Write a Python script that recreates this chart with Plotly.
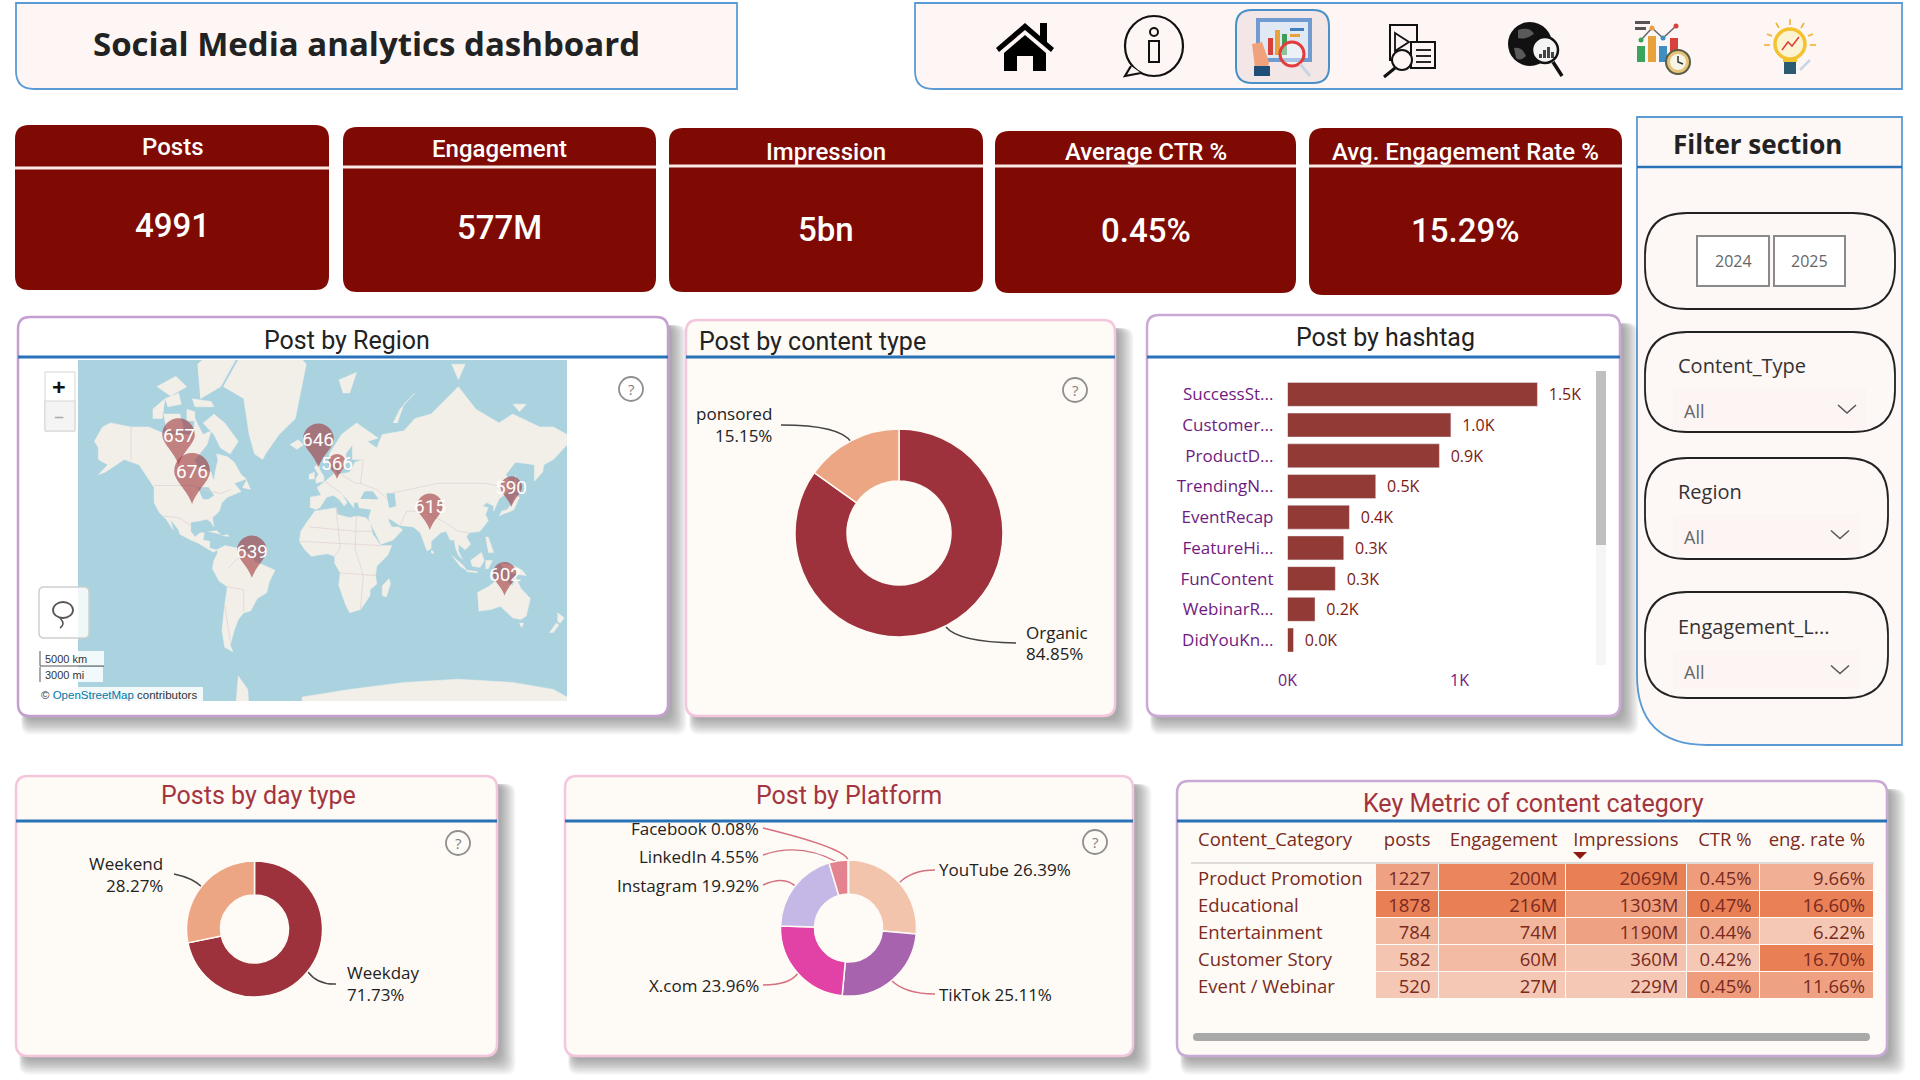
import numpy as np
import plotly.graph_objects as go

W, H = 1920, 1080

# ---- data
kpi_titles = ["Posts", "Engagement", "Impression", "Average CTR %", "Avg. Engagement Rate %"]
kpi_values = ["4991", "577M", "5bn", "0.45%", "15.29%"]

region_names = ["USA", "Canada", "UK", "Germany", "Japan", "India", "Brazil", "Australia"]
region_posts = [676, 657, 646, 566, 590, 615, 639, 602]
region_lon = [-96, -106, -3, 10.7, 139, 79, -52, 134]
region_lat = [39.2, 58, 57, 52, 37.5, 22.9, -11.6, -24]

content_type_labels = ["Organic", "Sponsored"]
content_type_share = [84.85, 15.15]

hashtags = ["SuccessSt...", "Customer...", "ProductD...", "TrendingN...", "EventRecap",
            "FeatureHi...", "FunContent", "WebinarR...", "DidYouKn..."]
hashtag_posts = [1.453, 0.95, 0.883, 0.513, 0.36, 0.327, 0.278, 0.16, 0.035]
hashtag_text = ["1.5K", "1.0K", "0.9K", "0.5K", "0.4K", "0.3K", "0.3K", "0.2K", "0.0K"]

day_labels = ["Weekday", "Weekend"]
day_share = [71.73, 28.27]

platform_labels = ["YouTube", "TikTok", "X.com", "Instagram", "LinkedIn", "Facebook"]
platform_share = [26.39, 25.11, 23.96, 19.92, 4.55, 0.08]

categories = ["Product Promotion", "Educational", "Entertainment", "Customer Story", "Event / Webinar"]
cat_posts = [1227, 1878, 784, 582, 520]
cat_engagement = [200, 216, 74, 60, 27]
cat_impressions = [2069, 1303, 1190, 360, 229]
cat_ctr = [0.45, 0.47, 0.44, 0.42, 0.45]
cat_eng_rate = [9.66, 16.60, 6.22, 16.70, 11.66]

# coarse coastlines for the base map (lon, lat)
land = [
    [(-168,66),(-162,70),(-156,71),(-141,70),(-128,70),(-115,68),(-108,68),(-95,68),(-94,72),(-88,68),(-82,69),(-85,65),(-94,60),(-92,57),(-82,55),(-80,51),(-79,55),(-77,60),(-78,62),(-70,61),(-65,59),(-60,54),(-56,52),(-65,50),(-60,46),(-66,44),(-70,43),(-74,40),(-76,35),(-81,31),(-80,25),(-82,28),(-85,30),(-90,29),(-97,28),(-97,22),(-94,18),(-90,21),(-87,21),(-88,16),(-83,15),(-83,10),(-78,9),(-80,7),(-85,10),(-92,14),(-97,16),(-105,20),(-106,23),(-112,30),(-110,23),(-115,30),(-120,34),(-124,40),(-124,48),(-130,54),(-135,58),(-146,60),(-152,58),(-160,55),(-165,54),(-158,58),(-165,60),(-165,64)],
    [(-80,73),(-72,71),(-62,66),(-68,62),(-75,64),(-80,68),(-88,71)],
    [(-117,73),(-105,73),(-102,69),(-115,69)],
    [(-90,76),(-75,78),(-62,82),(-75,83),(-92,81)],
    [(-125,74),(-116,76),(-118,72),(-125,72)],
    [(-116,76),(-106,77),(-104,75),(-114,74.5)],
    [(-96,76),(-82,75.5),(-80,74.5),(-94,74.5)],
    [(-122,78),(-108,79.5),(-100,78),(-112,76.5)],
    [(-100,74),(-94,73.5),(-94,71.5),(-100,71.5)],
    [(-73,78),(-60,82),(-32,84),(-12,81),(-20,72),(-32,68),(-42,62),(-44,60),(-50,62),(-54,68),(-58,76)],
    [(-24,65),(-18,66.5),(-14,65),(-19,63.5)],
    [(-5,50),(1,51),(1,53),(-2,56),(-3,58.5),(-6,57),(-3,54),(-5,52)],
    [(-10,52),(-6,52),(-6,55),(-10,54)],
    [(-59,48),(-53,47),(-56,51.5)],
    [(-84,22),(-75,20),(-78,22.5)],
    [(-74,19),(-69,18.5),(-70,20)],
    [(-72,12),(-62,10),(-52,5),(-50,0),(-44,-2),(-35,-6),(-39,-14),(-41,-22),(-48,-26),(-53,-34),(-58,-35),(-62,-39),(-65,-45),(-68,-52),(-66,-55),(-72,-53),(-74,-45),(-72,-30),(-70,-18),(-76,-14),(-81,-5),(-80,1),(-77,7),(-78,9)],
    [(-6,35),(10,37),(11,33),(20,31),(25,32),(32,31),(35,28),(37,20),(43,12),(51,12),(48,5),(40,-3),(39,-10),(40,-16),(35,-20),(35,-24),(28,-33),(20,-35),(17,-30),(12,-17),(13,-8),(9,-1),(9,4),(4,6),(-4,5),(-8,4),(-13,9),(-17,15),(-16,22),(-10,30)],
    [(49,-12),(50,-16),(47,-25),(44,-24),(44,-17)],
    [(-9,37),(-9,43),(-1,44),(-4,48),(2,51),(8,54),(8,57),(11,54),(20,55),(24,59),(30,60),(22,60),(22,65),(17,62),(18,59),(13,55),(11,59),(5,59),(5,62),(14,68),(25,71),(41,67),(33,66),(40,64),(44,68),(60,69),(68,72),(80,73),(100,78),(113,74),(130,71),(140,73),(160,70),(170,70),(180,68),(180,65),(170,60),(163,58),(162,55),(156,51),(156,58),(142,59),(135,54),(140,48),(130,42),(128,38),(126,35),(126,38),(121,40),(118,38),(122,37),(120,33),(122,29),(116,22),(108,21),(106,18),(109,13),(105,9),(100,13),(100,8),(103,2),(100,5),(98,10),(97,16),(94,16),(91,22),(87,21),(80,15),(80,10),(77,8),(73,18),(72,21),(67,25),(57,26),(50,30),(48,30),(51,25),(56,25),(59,23),(52,16),(43,13),(39,21),(35,28),(34,31),(36,36),(27,37),(26,40),(23,40),(23,37),(19,41),(14,45),(18,40),(16,38),(12,42),(8,44),(3,43),(0,39),(-2,37),(-5,36)],
    [(130,32),(132,35),(136,36),(140,40),(142,44),(145,43),(141,36),(136,34)],
    [(142,54),(143,49),(142,46),(141.5,50)],
    [(120,18),(122,18),(126,7),(122,7)],
    [(109,1),(117,7),(119,1),(116,-4),(110,-3)],
    [(95,5),(104,-3),(106,-6),(101,-3)],
    [(106,-6),(114,-7),(114,-8),(106,-7)],
    [(120,1),(125,1),(122,-5),(120,-5)],
    [(131,-1),(141,-3),(147,-6),(150,-10),(143,-9),(138,-8),(133,-4)],
    [(80,9),(82,7),(81,6),(80,7)],
    [(114,-22),(122,-18),(130,-12),(136,-12),(136,-15),(140,-17),(142,-11),(146,-19),(153,-26),(150,-37),(146,-39),(140,-38),(136,-35),(131,-31),(124,-33),(115,-34)],
    [(145,-41),(148,-41),(147,-43),(146,-43)],
    [(173,-35),(178,-38),(175,-41),(173,-40)],
    [(172,-41),(174,-42),(170,-46),(167,-46)],
    [(12,79),(25,80),(20,77),(15,77)],
    [(52,71),(57,74),(68,77),(60,75),(55,71)],
    [(100,79),(105,81),(95,81)],
    [(140,75),(150,75),(145,73.5)],
    [(-15,-85),(-15,-70),(20,-68),(60,-66),(100,-65),(140,-66),(170,-68),(180,-70),(180,-85)],
    [(-70,-85),(-62,-64),(-55,-68),(-50,-85)],
]
inland_water = [
    [(28,42),(31,46),(37,46),(41,42),(35,42)],
    [(47,45),(53,45),(54,38),(49,37)],
    [(-92,48),(-84,48),(-80,44),(-84,42),(-88,42)],
]
borders = [
    [(-124,49),(-95,49),(-83,46),(-75,45),(-67,47)],
    [(-141,70),(-141,60)],
    [(-117,32),(-106,31),(-97,26)],
    [(-70,-18),(-58,-20),(-58,-34)],
    [(-70,-5),(-60,5),(-52,3)],
    [(-72,-30),(-68,-50)],
    [(-10,25),(25,22),(37,22)],
    [(10,37),(13,10),(9,4)],
    [(25,32),(24,10),(30,-10),(28,-33)],
    [(13,-8),(40,-10)],
    [(-17,15),(43,12)],
    [(30,60),(28,50),(40,47),(48,42)],
    [(50,45),(85,50),(120,50),(135,48)],
    [(75,35),(90,28),(100,22),(108,21)],
    [(57,26),(62,35),(75,35)],
    [(2,51),(8,48),(14,45)],
    [(14,54),(24,50),(28,50)],
]


def merc(lat):
    return np.log(np.tan(np.pi / 4 + np.radians(np.array(lat, dtype=float)) / 2))


def rounded(x0, y0, x1, y1, r):
    # r is one radius or (top-left, top-right, bottom-right, bottom-left)
    tl, tr, br, bl = (r, r, r, r) if np.isscalar(r) else r
    return (f"M{x0+tl},{y0} L{x1-tr},{y0} Q{x1},{y0} {x1},{y0+tr} L{x1},{y1-br} Q{x1},{y1} {x1-br},{y1} "
            f"L{x0+bl},{y1} Q{x0},{y1} {x0},{y1-bl} L{x0},{y0+tl} Q{x0},{y0} {x0+tl},{y0} Z")


shapes = []
annotations = []


def path(d, fill=None, line=None, width=1, layer="below"):
    shapes.append(dict(type="path", xref="x", yref="y", path=d, layer=layer,
                       fillcolor=fill or "rgba(0,0,0,0)",
                       line=dict(color=line or "rgba(0,0,0,0)", width=width if line else 0)))


def rect(x0, y0, x1, y1, fill=None, line=None, width=1, layer="below"):
    path(f"M{x0},{y0} L{x1},{y0} L{x1},{y1} L{x0},{y1} Z", fill, line, width, layer)


def seg(x0, y0, x1, y1, color, width=1, layer="below"):
    path(f"M{x0},{y0} L{x1},{y1}", None, color, width, layer)


def circle(cx, cy, r, fill=None, line=None, width=1, layer="below", ry=None):
    ry = ry or r
    shapes.append(dict(type="circle", xref="x", yref="y", x0=cx - r, x1=cx + r, y0=cy - ry, y1=cy + ry, layer=layer,
                       fillcolor=fill or "rgba(0,0,0,0)",
                       line=dict(color=line or "rgba(0,0,0,0)", width=width if line else 0)))


def label(x, y, text, size=16, color="#333333", family="Open Sans", anchor="center", weight=None):
    font = dict(size=size, color=color, family=family)
    if weight:
        font["weight"] = weight
    annotations.append(dict(xref="x", yref="y", x=x, y=y, text=text, showarrow=False, xanchor=anchor,
                            yanchor="middle", font=font, borderpad=0))


def panel(x0, y0, x1, y1, fill, border, line_y, title, tx, ty, tcolor="#222222", anchor="center", shadow=True):
    if shadow:
        for k in range(10):
            grow = k * 1.6
            path(rounded(x0 + 8 - grow / 3, y0 + 8, x1 + 4 + grow, y1 + 4 + grow, 10), "rgba(60,60,60,0.05)")
    path(rounded(x0, y0, x1, y1, 12), fill, border, 2.5)
    seg(x0, line_y, x1, line_y, "#2a72b8", 3)
    label(tx, ty, title, 25, tcolor, "Roboto", anchor)


def help_icon(cx, cy):
    circle(cx, cy, 12, "rgba(0,0,0,0)", "#8f8f8f", 1.8)
    label(cx, cy, "?", 15, "#7f7f7f", "Open Sans")


def leader(x0, y0, cx, cy, x1, y1, color):
    path(f"M{x0},{y0} Q{cx},{cy} {x1},{y1}", None, color, 1.4)


def pie_domain(cx, cy, r):
    return dict(x=[(cx - r) / W, (cx + r) / W], y=[1 - (cy + r) / H, 1 - (cy - r) / H])


def cell_colors(values):
    # per-column tint, light salmon to orange as in the conditional formatting
    low, high = np.array([245, 200, 181]), np.array([233, 127, 85])
    span = max(values) - min(values)
    out = []
    for v in values:
        c = low + (high - low) * (v - min(values)) / span
        out.append(f"rgb({c[0]:.0f},{c[1]:.0f},{c[2]:.0f})")
    return out


def draw_nav_icons():
    # home
    path("M996,48 L1025,23 L1040,36 L1040,23 L1047,23 L1047,42 L1054,48 L1051,52 L1025,30 L999,52 Z", "#000000")
    path("M1004,71 L1004,53 L1025,35 L1046,53 L1046,71 L1033,71 L1033,56 L1017,56 L1017,71 Z", "#000000")
    # info bubble
    circle(1154, 46, 29, None, "#111111", 2.2, ry=30)
    path("M1131,66 L1125,76 L1141,73", "#fdf6f5", "#111111", 2.2)
    circle(1154, 32, 4, None, "#111111", 2)
    rect(1149, 41, 1159, 62, None, "#111111", 2)
    # selected report button
    path(rounded(1236, 10, 1329, 83, 16), "#f3e6e6", "#4a90c8", 2)
    rect(1256, 18, 1312, 62, "#6f9bd0")
    rect(1260, 22, 1308, 58, "#dfe8f3")
    rect(1268, 38, 1273, 55, "#d8403a")
    rect(1275, 30, 1280, 55, "#e9a23b")
    rect(1282, 34, 1287, 55, "#3f9d58")
    rect(1290, 28, 1304, 31, "#3f7fc0")
    rect(1290, 34, 1300, 37, "#e9a23b")
    path("M1252,44 L1262,42 L1269,62 L1268,68 L1255,68 Z", "#f0a27c")
    rect(1254, 66, 1270, 76, "#1f4e79")
    circle(1292, 54, 12, "rgba(255,255,255,0.4)", "#e23c3c", 3)
    seg(1300, 64, 1310, 76, "#c9d5e3", 3)
    # video / document search
    rect(1390, 25, 1417, 60, "#fdf6f5", "#111111", 2)
    path("M1395,33 L1409,42 L1395,51 Z", "#fdf6f5", "#111111", 1.8)
    rect(1411, 42, 1435, 68, "#fdf6f5", "#111111", 2)
    for y in (50, 56, 62):
        seg(1416, y, 1431, y, "#111111", 1.8)
    circle(1402, 60, 10, "#fdf6f5", "#111111", 2)
    seg(1395, 68, 1384, 77, "#111111", 3)
    # globe search
    circle(1530, 44, 22, "#111111")
    path("M1518,30 Q1530,26 1534,34 Q1526,40 1518,38 Z", "#5a5a5a")
    path("M1514,48 Q1522,46 1526,56 Q1520,62 1516,58 Z", "#5a5a5a")
    circle(1545, 50, 13, "#f4f4f4", "#111111", 2.5)
    for x, y in ((1539, 54), (1543, 50), (1547, 47), (1551, 52)):
        rect(x, y, x + 3, 58, "#444444")
    seg(1553, 62, 1562, 76, "#111111", 3.5)
    # chart with clock
    rect(1635, 21, 1650, 24, "#555555")
    rect(1635, 27, 1646, 30, "#555555")
    rect(1637, 46, 1645, 62, "#3aa35c")
    rect(1648, 36, 1656, 62, "#e9a23b")
    rect(1659, 46, 1667, 62, "#3f8fc0")
    rect(1670, 38, 1678, 58, "#d8403a")
    path("M1641,40 L1652,28 L1663,38 L1676,26", None, "#666666", 1.5)
    for x, y, c in ((1641, 40, "#3aa35c"), (1652, 28, "#e9a23b"), (1663, 38, "#3f8fc0"), (1676, 26, "#d8403a")):
        circle(x, y, 2.5, c)
    circle(1678, 62, 12, "#e5c47a", "#5b5b45", 2)
    circle(1678, 62, 8, "#f7f4e8")
    path("M1678,56 L1678,62 L1683,64", None, "#333333", 1.5)
    # light bulb
    for x0, y0, x1, y1 in ((1790, 19, 1790, 25), (1776, 23, 1779, 28), (1804, 23, 1801, 28),
                           (1767, 34, 1772, 36), (1813, 34, 1808, 36), (1764, 45, 1770, 45), (1816, 45, 1810, 45)):
        seg(x0, y0, x1, y1, "#f2b134", 1.6)
    circle(1790, 44, 15, "#fbf3d2", "#f3c22f", 3.5)
    path("M1782,50 L1788,42 L1792,46 L1799,37", None, "#d8403a", 1.5)
    rect(1783, 59, 1797, 62, "#f3c22f")
    rect(1784, 62, 1796, 74, "#2c5a70")
    seg(1800, 70, 1810, 60, "#c9d5e3", 2.5)


# ---- top row
path(rounded(16, 3, 737, 89, (0, 0, 0, 18)), "#fdf6f5", "#5b9bd5", 1.8)
label(92, 43, "Social Media analytics dashboard", 33, "#222222", "Open Sans", "left", 700)
path(rounded(915, 3, 1902, 89, (0, 0, 0, 18)), "#fdf6f5", "#5b9bd5", 1.8)
draw_nav_icons()

card_x = [(15, 329), (343, 656), (669, 983), (995, 1296), (1309, 1622)]
card_y = [(125, 290), (127, 292), (128, 292), (131, 293), (128, 295)]
card_line = [168, 167, 166, 166, 166]
card_title_y = [147, 149, 152, 152, 152]
card_value_y = [225, 227, 229, 230, 230]
for i in range(5):
    path(rounded(card_x[i][0], card_y[i][0], card_x[i][1], card_y[i][1], 14), "#7f0a03")
    seg(card_x[i][0], card_line[i], card_x[i][1], card_line[i], "#fbe9e6", 3)
    mid = sum(card_x[i]) / 2
    label(mid, card_title_y[i], kpi_titles[i], 24, "#ffffff", "Roboto", weight=500)
    label(mid, card_value_y[i], kpi_values[i], 33, "#ffffff", "Roboto", weight=500)

# ---- filter panel
path(rounded(1637, 117, 1902, 745, (0, 0, 0, 70)), "#fdf7f6", "#5b9bd5", 1.8)
seg(1637, 167, 1902, 167, "#2a72b8", 2.5)
label(1757, 144, "Filter section", 26, "#222222", "Open Sans", weight=700)
path(rounded(1645, 213, 1895, 309, 42), None, "#222222", 1.8)
rect(1697, 236, 1769, 286, "#ffffff", "#8a8a8a", 2)
rect(1774, 236, 1845, 286, "#ffffff", "#8a8a8a", 2)
label(1733, 261, "2024", 16, "#666666")
label(1809, 261, "2025", 16, "#666666")
slicers = [("Content_Type", 332, 432, 1895, 365, 388, 430, 411),
           ("Region", 458, 559, 1888, 491, 514, 555, 537),
           ("Engagement_L...", 592, 698, 1888, 626, 650, 689, 672)]
for name, y0, y1, x1, ly, dy0, dy1, ay in slicers:
    path(rounded(1645, y0, x1, y1, 42), None, "#222222", 1.8)
    rect(1673, dy0, x1 - 28, dy1, "#fcf5f4")
    label(1677, ly, name, 20, "#333333", anchor="left")
    label(1683, ay, "All", 18, "#666666", anchor="left")
    cx, cy = x1 - 48, (dy0 + dy1) / 2
    path(f"M{cx-9},{cy-4} L{cx},{cy+4} L{cx+9},{cy-4}", None, "#555555", 1.5)

# ---- panels
panel(18, 317, 668, 716, "#ffffff", "#c49fd0", 357, "Post by Region", 347, 340)
panel(686, 320, 1115, 716, "#fefaf5", "#f3c6dd", 357, "Post by content type", 698, 341, anchor="left")
panel(1147, 315, 1620, 716, "#ffffff", "#c9a9d6", 357, "Post by hashtag", 1385, 337)
panel(16, 776, 497, 1056, "#fefaf5", "#f3c6dd", 821, "Posts by day type", 258, 795, "#a3353f")
panel(565, 776, 1133, 1056, "#fefaf5", "#f3c6dd", 821, "Post by Platform", 849, 795, "#a3353f")
panel(1177, 781, 1887, 1056, "#fefaf5", "#c9a9d6", 821, "Key Metric of content category", 1533, 803, "#a3353f")
help_icon(631, 389)
help_icon(1075, 390)
help_icon(458, 843)
help_icon(1095, 842)

# map chrome
rect(45, 372, 75, 431, "#ffffff", "#d5d5d5", 1, "above")
rect(45, 401, 75, 431, "#f4f4f4", "#d5d5d5", 1, "above")
label(59, 386, "+", 24, "#111111", "Open Sans", weight=700)
label(59, 415, "–", 20, "#aaaaaa")
path(rounded(39, 587, 89, 638, 5), "rgba(255,255,255,0.82)", "#cfcfcf", 1.5, "above")
circle(63, 610, 10, None, "#555555", 1.8, "above", ry=8)
path("M60,618 Q66,624 60,628", None, "#555555", 1.6, "above")
rect(40, 651, 104, 666, "rgba(255,255,255,0.85)", None, 1, "above")
rect(40, 667, 103, 682, "rgba(255,255,255,0.85)", None, 1, "above")
seg(40, 651, 40, 666, "#555555", 1, "above")
seg(40, 666, 104, 666, "#555555", 1, "above")
seg(40, 667, 40, 682, "#555555", 1, "above")
label(44, 659, "5000 km", 11, "#333333", "Liberation Sans", "left")
label(44, 675, "3000 mi", 11, "#333333", "Liberation Sans", "left")
rect(38, 687, 203, 702, "rgba(255,255,255,0.85)", None, 1, "above")
label(40, 695, "© <span style='color:#0078a8'>OpenStreetMap</span> contributors", 11.5, "#333333", "Liberation Sans", "left")

# donut leaders and labels
leader(781, 425, 840, 425, 851, 442, "#444444")
label(773, 413, "ponsored", 17, "#222222", anchor="right")
label(773, 435, "15.15%", 17, "#222222", anchor="right")
leader(946, 627, 958, 642, 1016, 643, "#444444")
label(1025, 632, "Organic", 17, "#222222", anchor="left")
label(1025, 653, "84.85%", 17, "#222222", anchor="left")

leader(174, 874, 193, 878, 202, 887, "#444444")
label(164, 863, "Weekend", 17, "#222222", anchor="right")
label(164, 885, "28.27%", 17, "#222222", anchor="right")
leader(308, 972, 318, 985, 336, 984, "#444444")
label(346, 972, "Weekday", 17, "#222222", anchor="left")
label(346, 994, "71.73%", 17, "#222222", anchor="left")

plat_pink = "#d4707f"
leader(763, 828, 845, 848, 848, 860, plat_pink)
leader(763, 855, 800, 842, 837, 862, plat_pink)
leader(763, 885, 785, 875, 796, 887, plat_pink)
leader(763, 985, 790, 985, 798, 973, plat_pink)
leader(935, 870, 912, 870, 899, 883, plat_pink)
leader(935, 994, 905, 994, 891, 980, plat_pink)
plat_left = [("Facebook 0.08%", 828), ("LinkedIn 4.55%", 856), ("Instagram 19.92%", 885), ("X.com 23.96%", 985)]
for text, y in plat_left:
    label(760, y, text, 17, "#222222", anchor="right")
label(938, 869, "YouTube 26.39%", 17, "#222222", anchor="left")
label(938, 994, "TikTok 25.11%", 17, "#222222", anchor="left")

# hashtag scrollbar
rect(1596, 371, 1606, 665, "#f5f5f5")
rect(1596, 371, 1606, 545, "#bfbfbf")

# table furniture
table_ink = "#7a2a20"
path("M1573,852 L1587,852 L1580,859 Z", "#8f1a12", None, 1, "above")
seg(1191, 863, 1874, 863, "#bdbdbd", 1.2, "above")
path(rounded(1193, 1033, 1870, 1041, 4), "#a9a9a9")

fig = go.Figure()

# full-page axes in pixels carry the panels and text
fig.add_trace(go.Scatter(x=[None], y=[None], xaxis="x", yaxis="y", showlegend=False, hoverinfo="skip"))


def lines_to_xy(polys):
    xs, ys = [], []
    for poly in polys:
        lon, lat = zip(*poly)
        xs += list(lon) + [None]
        ys += list(merc(lat)) + [None]
    return xs, ys


land_x, land_y = lines_to_xy(land)
fig.add_trace(go.Scatter(x=land_x, y=land_y, xaxis="x2", yaxis="y2", mode="lines", fill="toself",
                         fillcolor="#f2efe9", line=dict(color="#f2efe9", width=0.5), hoverinfo="skip", showlegend=False))
water_x, water_y = lines_to_xy(inland_water)
fig.add_trace(go.Scatter(x=water_x, y=water_y, xaxis="x2", yaxis="y2", mode="lines", fill="toself",
                         fillcolor="#aad3df", line=dict(color="#aad3df", width=0.5), hoverinfo="skip", showlegend=False))
border_x, border_y = lines_to_xy(borders)
fig.add_trace(go.Scatter(x=border_x, y=border_y, xaxis="x2", yaxis="y2", mode="lines",
                         line=dict(color="#e0cfd2", width=0.7), hoverinfo="skip", showlegend=False))

# pins: height grows with the post count, tip sits on the region
for name, posts, lon, lat in zip(region_names, region_posts, region_lon, region_lat):
    h = 25 + (posts - 566) / (676 - 566) * 26
    r = 0.35 * h
    d = (f"M0,0 C{-0.3*r},{0.3*h} {-r},{0.45*h} {-r},{h-r} C{-r},{h-0.45*r} {-0.55*r},{h} 0,{h} "
         f"C{0.55*r},{h} {r},{h-0.45*r} {r},{h-r} C{r},{0.45*h} {0.3*r},{0.3*h} 0,0 Z")
    shapes.append(dict(type="path", xref="x2", yref="y2", xsizemode="pixel", ysizemode="pixel",
                       xanchor=lon, yanchor=float(merc(lat)), path=d, layer="above",
                       fillcolor="rgba(160,55,60,0.6)", line=dict(width=0)))
    annotations.append(dict(xref="x2", yref="y2", x=lon, y=float(merc(lat)), yshift=0.63 * h, text=str(posts),
                            showarrow=False, font=dict(size=19, color="#ffffff", family="Roboto"), yanchor="middle"))

fig.add_trace(go.Pie(labels=content_type_labels, values=content_type_share, hole=0.5, sort=False, direction="clockwise",
                     domain=pie_domain(899, 533, 104), textinfo="none", showlegend=False, automargin=False,
                     marker=dict(colors=["#9e323c", "#eca684"], line=dict(color="#fefaf5", width=1.5))))
fig.add_trace(go.Pie(labels=day_labels, values=day_share, hole=0.5, sort=False, direction="clockwise",
                     domain=pie_domain(254.5, 929, 68), textinfo="none", showlegend=False, automargin=False,
                     marker=dict(colors=["#9e323c", "#eca684"], line=dict(color="#fefaf5", width=1.5))))
fig.add_trace(go.Pie(labels=platform_labels, values=platform_share, hole=0.5, sort=False, direction="clockwise",
                     domain=pie_domain(848.5, 928, 68), textinfo="none", showlegend=False, automargin=False,
                     marker=dict(colors=["#f3c4ac", "#a763ad", "#e242a5", "#c5b7e6", "#e5828f", "#e5828f"],
                                 line=dict(color="#fefaf5", width=1.5))))

fig.add_trace(go.Bar(x=hashtag_posts, y=hashtags, orientation="h", xaxis="x3", yaxis="y3", marker_color="#923a35",
                     text=["  " + t for t in hashtag_text], textposition="outside", cliponaxis=False,
                     textfont=dict(size=16, color="#7c1a12", family="Open Sans"), showlegend=False, hoverinfo="skip"))

table_cols = [categories, cat_posts, [f"{v}M" for v in cat_engagement], [f"{v}M" for v in cat_impressions],
              [f"{v:.2f}%" for v in cat_ctr], [f"{v:.2f}%" for v in cat_eng_rate]]
table_fill = [["#fefaf5"] * 5, cell_colors(cat_posts), cell_colors(cat_engagement), cell_colors(cat_impressions),
              cell_colors(cat_ctr), cell_colors(cat_eng_rate)]
# non-breaking spaces keep the headers on one line, the table wraps on plain spaces
fig.add_trace(go.Table(
    domain=dict(x=[1190 / W, 1873.5 / W], y=[1 - 1005 / H, 1 - 824 / H]),
    columnwidth=[185.5, 63, 127, 121, 73, 113.5],
    header=dict(values=["Content_Category", "posts", "Engagement", "Impressions", "CTR\u00a0%", "eng.\u00a0rate\u00a0%"],
                align=["left", "right", "right", "right", "right", "right"], height=39,
                fill_color="#fefaf5", line_color="#fefaf5", font=dict(size=18.5, color=table_ink, family="Open Sans")),
    cells=dict(values=table_cols, align=["left", "right", "right", "right", "right", "right"], height=27,
               fill_color=table_fill, line=dict(color="#fefaf5", width=1),
               font=dict(size=18.5, color=table_ink, family="Open Sans")),
))

hidden = dict(visible=False, fixedrange=True)
fig.update_layout(
    width=W, height=H, margin=dict(l=0, r=0, t=0, b=0, pad=0, autoexpand=False), autosize=False,
    paper_bgcolor="#ffffff", plot_bgcolor="rgba(0,0,0,0)", showlegend=False,
    xaxis=dict(domain=[0, 1], range=[0, W], **hidden),
    yaxis=dict(domain=[0, 1], range=[H, 0], **hidden),
    xaxis2=dict(domain=[78 / W, 567 / W], range=[-180, 180], anchor="y2", **hidden),
    yaxis2=dict(domain=[1 - 701 / H, 1 - 360 / H], range=[-1.787, 2.596], anchor="x2", **hidden),
    xaxis3=dict(domain=[1287.5 / W, 1562.7 / W], range=[0, 1.6], anchor="y3", showgrid=False, zeroline=False,
                showline=False, fixedrange=True, tickvals=[0, 1], ticktext=["0K", "1K"], ticklen=0, ticklabelstandoff=14,
                tickfont=dict(size=16, color="#701a7f", family="Open Sans")),
    yaxis3=dict(domain=[1 - 655.4 / H, 1 - 379 / H], anchor="x3", autorange="reversed", showgrid=False, zeroline=False,
                showline=False, fixedrange=True, ticklen=0, ticklabelstandoff=13,
                tickfont=dict(size=17, color="#701a7f", family="Open Sans")),
    bargap=0.22,
    shapes=shapes,
    annotations=annotations,
)
# ocean behind the land, inside the map subplot
fig.add_shape(type="rect", xref="x2", yref="y2", x0=-180, x1=180, y0=-1.787, y1=2.596, layer="below",
              fillcolor="#aad3df", line=dict(width=0))

fig.write_html("out.html", post_script="document.body.style.margin='0';", config=dict(displayModeBar=False))
